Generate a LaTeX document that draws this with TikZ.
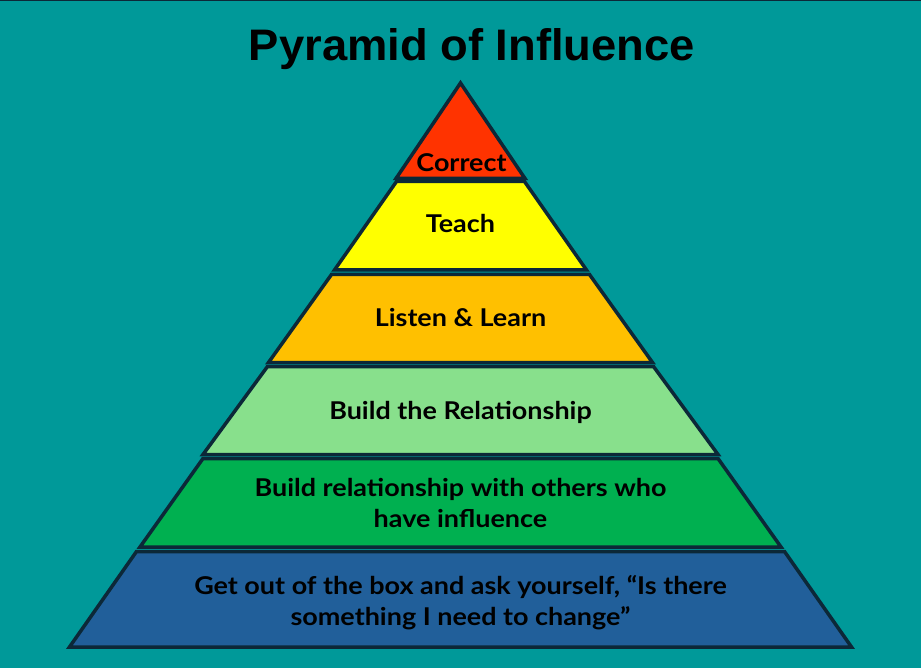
\documentclass[tikz,border=0pt]{standalone}
\usepackage{fontspec}
\setmainfont{Lato}[FakeStretch=1.1]
\newfontfamily\titlefont{Liberation Sans}
\definecolor{bg}{RGB}{0,153,153}
\definecolor{edge}{RGB}{12,40,56}
\definecolor{lred}{RGB}{255,51,0}
\definecolor{lyellow}{RGB}{255,255,0}
\definecolor{lorange}{RGB}{255,192,0}
\definecolor{llgreen}{RGB}{136,224,140}
\definecolor{lgreen}{RGB}{0,176,80}
\definecolor{lblue}{RGB}{33,95,154}
\newcommand\pyrfont{\bfseries\fontsize{24.5}{31}\selectfont}
\begin{document}
\begin{tikzpicture}[x=1pt,y=-1pt,
  layer/.style={draw=edge,line width=3.5pt,line join=miter},
  lbl/.style={font=\pyrfont,anchor=base,align=center,inner sep=0pt,text=black}]
\fill[bg] (0,0) rectangle (921,668);
\useasboundingbox (0,0) rectangle (921,668);
\draw[edge,line width=1.5pt] (0,0.75) -- (921,0.75);
% title
\node[anchor=base,inner sep=0pt] (title) at (472,61)
  {\resizebox{446pt}{32pt}{\titlefont\bfseries Pyramid of Influence}};
% layers
\filldraw[layer,fill=lred] (460.5,83) -- (525,178.5) -- (396,178.5) -- cycle;
\filldraw[layer,fill=lyellow] (396.5,181.5) -- (524.5,181.5) -- (586.5,270) -- (334.5,270) -- cycle;
\filldraw[layer,fill=lorange] (331.5,274.5) -- (589.5,274.5) -- (652.5,362.5) -- (268.5,362.5) -- cycle;
\filldraw[layer,fill=llgreen] (267.5,366.5) -- (653.5,366.5) -- (718,454.5) -- (203,454.5) -- cycle;
\filldraw[layer,fill=lgreen] (203,458.5) -- (718,458.5) -- (781,547) -- (140,547) -- cycle;
\filldraw[layer,fill=lblue] (136.5,551.5) -- (784.5,551.5) -- (851.5,647) -- (69.5,647) -- cycle;
% labels
\node[lbl] (t1) at (461.5,172) {Correct};
\node[lbl] (t2) at (460.5,232.7) {Teach};
\node[lbl] (t3) at (460.5,326.5) {Listen \& Learn};
\node[lbl] (t4) at (460.5,419.5) {Build the Relationship};
\node[lbl] (t5) at (460.5,527) {Build relationship with others who\\have influence};
\node[lbl] (t6) at (460.5,625) {Get out of the box and ask yourself, “Is there\\something I need to change”};
\end{tikzpicture}
\end{document}
